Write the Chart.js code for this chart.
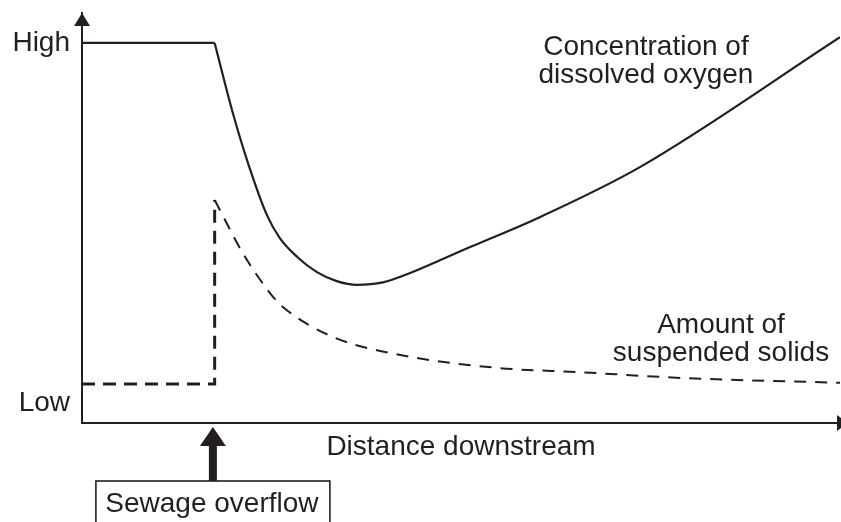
<!DOCTYPE html>
<html>
<head>
<meta charset="utf-8">
<script src="https://cdn.jsdelivr.net/npm/chart.js@4/dist/chart.umd.min.js"></script>
<style>
  html, body { margin: 0; padding: 0; background: #ffffff; }
  #wrap { width: 841px; height: 522px; position: relative; }
</style>
</head>
<body>
<div id="wrap"><canvas id="c" width="841" height="522"></canvas></div>
<script>
// ---- Data (x: distance downstream 0..100, y: relative level 0..100) ----
const oxygenX = [0, 17.5, 19.9, 21.9, 24.4, 26.1, 28.4, 31.0, 33.6, 36.3, 39.7, 43.3, 47.6, 51.2, 60.4, 73.6, 100];
const oxygenY = [92.7, 92.7, 75.6, 63.4, 50.7, 45.1, 40.5, 36.8, 34.6, 33.7, 34.3, 36.6, 40.0, 42.9, 50.2, 62.4, 94.1];
const solidsX = [0, 17.5, 17.5, 21.2, 24.8, 26.5, 33.1, 42.0, 55.1, 65.7, 78.9, 100];
const solidsY = [9.5, 9.5, 54.4, 41.5, 31.7, 28.3, 21.0, 16.6, 13.4, 12.4, 11.0, 9.8];
const yTickValues = [4.9, 92.7];
const yTickLabels = ['Low', 'High'];
const sewageX = 17.4;
const xAxisTitle = 'Distance downstream';
const oxygenLabel = ['Concentration of', 'dissolved oxygen'];
const solidsLabel = ['Amount of', 'suspended solids'];
const sewageLabel = 'Sewage overflow';

const INK = '#231f20';
const FONT = '"Liberation Sans", Arial, Helvetica, sans-serif';

function pts(xs, ys, from, to) {
  const out = [];
  for (let i = from; i <= to; i++) out.push({x: xs[i], y: ys[i]});
  return out;
}

const annotate = {
  id: 'annotate',
  afterDraw(chart) {
    const {ctx, chartArea: a, scales: {x, y}} = chart;
    ctx.save();
    ctx.fillStyle = INK;
    ctx.strokeStyle = INK;

    // y-axis arrowhead
    ctx.beginPath();
    ctx.moveTo(a.left, a.top);
    ctx.lineTo(a.left - 8, a.top + 13);
    ctx.lineTo(a.left + 8, a.top + 13);
    ctx.closePath();
    ctx.fill();

    // x-axis arrowhead (cut by the edge)
    ctx.beginPath();
    ctx.moveTo(a.right + 8, a.bottom);
    ctx.lineTo(a.right - 3, a.bottom - 8);
    ctx.lineTo(a.right - 3, a.bottom + 8);
    ctx.closePath();
    ctx.fill();

    // sewage overflow arrow
    const sx = x.getPixelForValue(sewageX) - 1;
    const tipY = a.bottom + 4;
    const boxTop = a.bottom + 58;
    ctx.fillRect(sx - 4, tipY + 16, 8, boxTop - tipY - 16);
    ctx.beginPath();
    ctx.moveTo(sx, tipY);
    ctx.lineTo(sx - 13, tipY + 19);
    ctx.lineTo(sx + 13, tipY + 19);
    ctx.closePath();
    ctx.fill();

    // box
    ctx.lineWidth = 1.6;
    ctx.strokeRect(sx - 117, boxTop, 234, 60);

    // texts
    ctx.font = '28px ' + FONT;
    ctx.textAlign = 'center';
    ctx.textBaseline = 'alphabetic';
    ctx.fillText(sewageLabel, sx - 1, boxTop + 31);

    const ox = x.getPixelForValue(74.4), oy = y.getPixelForValue(89.8);
    ctx.fillText(oxygenLabel[0], ox, oy);
    ctx.fillText(oxygenLabel[1], ox, oy + 28);

    const px = x.getPixelForValue(84.3), py = y.getPixelForValue(22.0);
    ctx.fillText(solidsLabel[0], px, py);
    ctx.fillText(solidsLabel[1], px, py + 28);

    ctx.restore();
  }
};

new Chart(document.getElementById('c'), {
  type: 'line',
  data: {
    datasets: [
      { data: pts(oxygenX, oxygenY, 0, 1), borderColor: INK, borderWidth: 2.2, tension: 0 },
      { data: pts(oxygenX, oxygenY, 1, oxygenX.length - 1), borderColor: INK, borderWidth: 2.2, cubicInterpolationMode: 'monotone' },
      { data: pts(solidsX, solidsY, 0, 2), borderColor: INK, borderWidth: 3, borderDash: [13, 8], tension: 0 },
      { data: pts(solidsX, solidsY, 2, solidsX.length - 1), borderColor: INK, borderWidth: 2, borderDash: [12, 9], cubicInterpolationMode: 'monotone' }
    ]
  },
  options: {
    responsive: false,
    animation: false,
    layout: { padding: { top: 13, right: 1, left: 0, bottom: 0 } },
    elements: { point: { radius: 0 }, line: { fill: false, borderCapStyle: 'butt' } },
    plugins: { legend: { display: false }, tooltip: { enabled: false } },
    scales: {
      x: {
        type: 'linear', min: 0, max: 100,
        grid: { display: false },
        border: { display: true, color: INK, width: 2 },
        ticks: { display: false },
        title: {
          display: true, text: xAxisTitle, color: INK,
          font: { family: FONT, size: 28 },
          padding: { top: 0, bottom: 58 }
        },
        afterFit: (s) => { s.height = 99; s.paddingLeft = 0; s.paddingRight = 0; }
      },
      y: {
        type: 'linear', min: 0, max: 100,
        grid: { display: false, drawTicks: false },
        border: { display: true, color: INK, width: 2 },
        afterBuildTicks: (s) => { s.ticks = yTickValues.map(v => ({ value: v })); },
        ticks: {
          autoSkip: false, padding: 12, color: INK,
          font: { family: FONT, size: 28 },
          callback: (v, i) => yTickLabels[i]
        },
        afterFit: (s) => { s.width = 82; s.paddingTop = 0; s.paddingBottom = 0; }
      }
    }
  },
  plugins: [annotate]
});
</script>
</body>
</html>
